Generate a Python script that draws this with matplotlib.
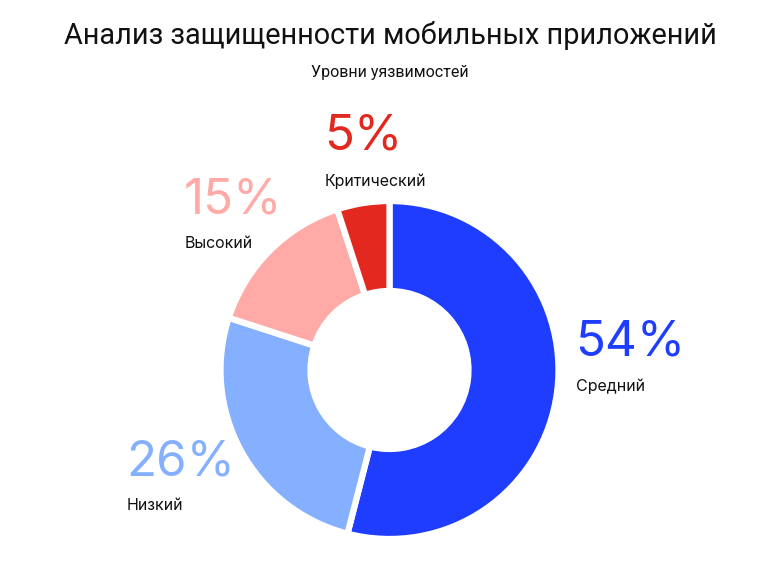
import matplotlib
matplotlib.use('Agg')
import matplotlib.pyplot as plt

title = 'Анализ защищенности мобильных приложений'
subtitle = 'Уровни уязвимостей'
labels = ['Средний', 'Низкий', 'Высокий', 'Критический']
values = [54, 26, 15, 5]
colors = ['#1f3dff', '#85b0ff', '#ffaaa6', '#e2281f']
# label anchors (left x, y of percent, y of name) in pixel space
label_pos = [(575, 343, 386), (126, 462, 505), (184, 200, 243), (324, 137, 181)]

W, H = 780, 562
fig = plt.figure(figsize=(W / 100, H / 100), dpi=100)
ax = fig.add_axes([0, 0, 1, 1])
ax.set_xlim(0, W)
ax.set_ylim(0, H)
ax.axis('off')

ax.pie(values, colors=colors, startangle=90, counterclock=False,
       center=(389.5, H - 370), radius=169,
       wedgeprops=dict(width=90, edgecolor='white', linewidth=4.5))
ax.set_xlim(0, W)
ax.set_ylim(0, H)

fig.text(0.5, 1 - 35 / H, title, ha='center', va='center',
         fontsize=20.8, family='Roboto', color='#111111')
fig.text(0.5, 1 - 72 / H, subtitle, ha='center', va='center',
         fontsize=11.5, family='Roboto', color='#111111')

for lab, v, c, (x, yp, yn) in zip(labels, values, colors, label_pos):
    ax.text(x, H - yp, f'{v}%', ha='left', va='center', fontsize=35.5,
            family='Inter', color=c)
    ax.text(x + 1, H - yn, lab, ha='left', va='center', fontsize=11.5,
            family='Inter', color='#111111')

fig.savefig('out.png', dpi=100)
